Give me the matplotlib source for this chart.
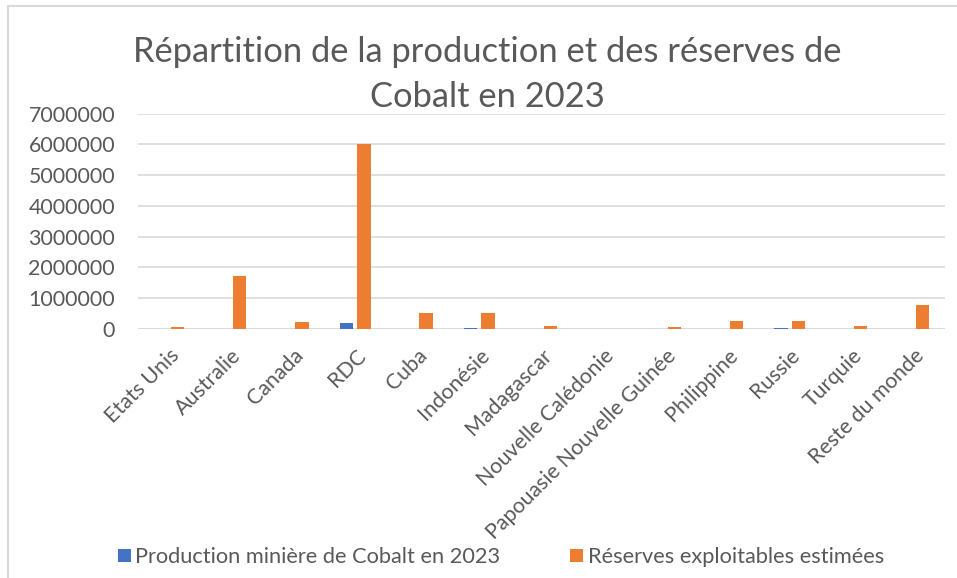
import numpy as np
import matplotlib.pyplot as plt
from matplotlib.patches import Rectangle

pays = ['Etats Unis', 'Australie', 'Canada', 'RDC', 'Cuba', 'Indonésie', 'Madagascar',
        'Nouvelle Calédonie', 'Papouasie Nouvelle Guinée', 'Philippine', 'Russie',
        'Turquie', 'Reste du monde']
production = [500, 4600, 3900, 170000, 3800, 10000, 4000, 2600, 3000, 3800, 8800, 2700, 4800]
reserves = [69000, 1700000, 220000, 6000000, 500000, 500000, 100000, 0, 47000, 260000,
            250000, 86000, 770000]
yticks = [0, 1000000, 2000000, 3000000, 4000000, 5000000, 6000000, 7000000]

plt.rcParams['font.family'] = ['Lato', 'DejaVu Sans']
gris = '#595959'

fig = plt.figure(figsize=(9.57, 5.78), dpi=100)
ax = fig.add_axes([0.1442, 0.4313, 0.8433, 0.372])

x = np.arange(len(pays))
w = 0.215
ax.bar(x - 0.14, production, w, color='#4472C4', label='Production minière de Cobalt en 2023')
ax.bar(x + 0.14, reserves, w, color='#ED7D31', label='Réserves exploitables estimées')

ax.set_xlim(-0.5, len(pays) - 0.5)
ax.set_ylim(0, 7000000)
ax.set_yticks(yticks)
ax.set_yticklabels([str(v) for v in yticks], fontsize=15.4, color=gris)
ax.set_xticks(x)
ax.set_xticklabels(pays, rotation=45, ha='right', rotation_mode='anchor',
                   fontsize=15.4, color=gris)
ax.tick_params(axis='both', length=0)
ax.tick_params(axis='y', pad=16.5)
ax.tick_params(axis='x', pad=12)
ax.grid(axis='y', color='#D9D9D9', lw=1.2)
ax.set_axisbelow(True)
for s in ax.spines.values():
    s.set_visible(False)
ax.axhline(0, color='#D9D9D9', lw=1.2, zorder=0.5)

fig.text(0.509, 0.91, 'Répartition de la production et des réserves de',
         ha='center', va='center', fontsize=24.8, color=gris)
fig.text(0.509, 0.832, 'Cobalt en 2023', ha='center', va='center', fontsize=24.8, color=gris)

fig.legend(loc='center', bbox_to_anchor=(0.5235, 0.036), ncol=2, frameon=False,
           fontsize=15.7, handlelength=0.6, handleheight=0.6, handletextpad=0.2,
           columnspacing=3.2, labelcolor=gris)

fig.patches.append(Rectangle((8 / 957, -0.1), 2, 1.1 - 6 / 578, transform=fig.transFigure,
                             fill=False, ec='#D9D9D9', lw=1.5))

fig.savefig('out.png', dpi=100)
